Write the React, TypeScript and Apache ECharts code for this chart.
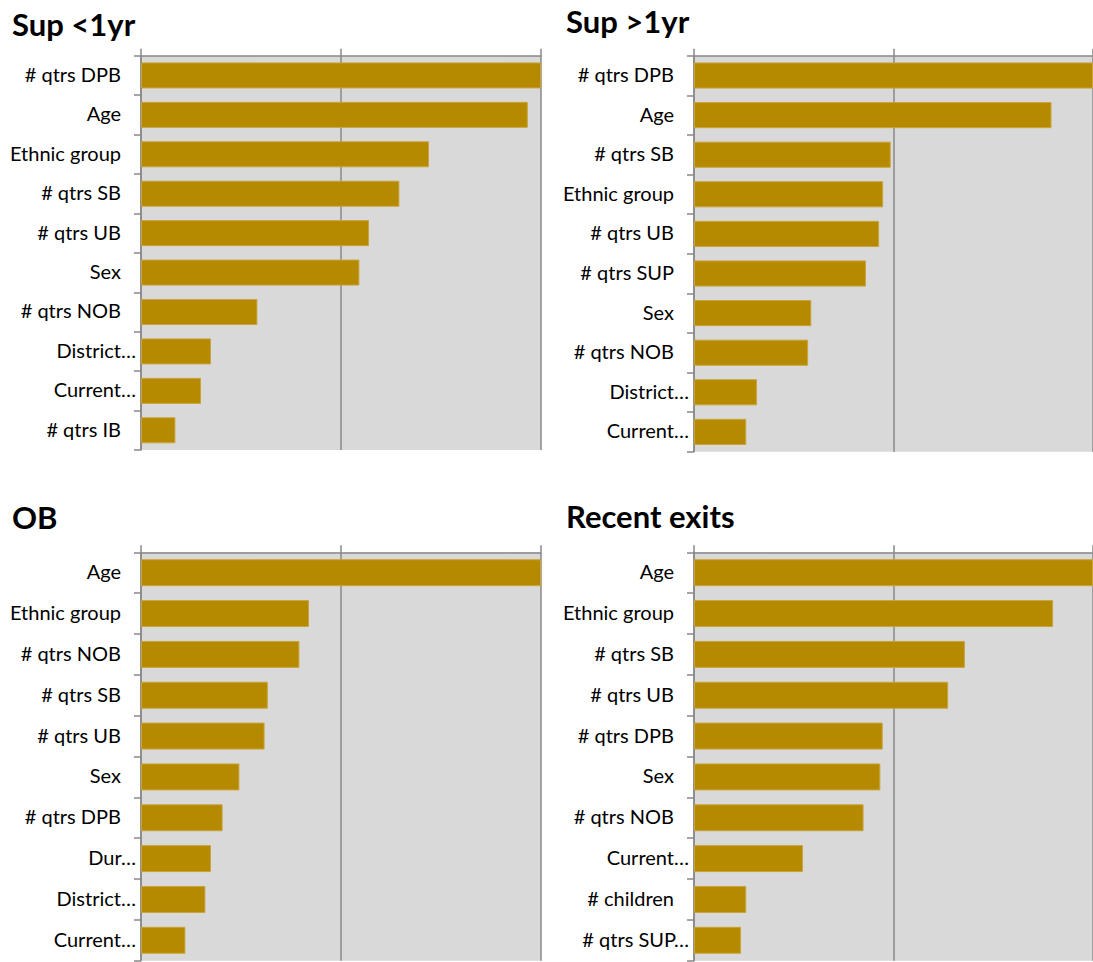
import React, { useEffect, useRef } from "react";
import * as echarts from "echarts";

// Panel titles
const titles = ["Sup <1yr", "Sup >1yr", "OB", "Recent exits"];

// Categories per panel (top to bottom)
const supUnder1Cats = ["# qtrs DPB", "Age", "Ethnic group", "# qtrs SB", "# qtrs UB", "Sex", "# qtrs NOB", "District…", "Current…", "# qtrs IB"];
const supOver1Cats = ["# qtrs DPB", "Age", "# qtrs SB", "Ethnic group", "# qtrs UB", "# qtrs SUP", "Sex", "# qtrs NOB", "District…", "Current…"];
const obCats = ["Age", "Ethnic group", "# qtrs NOB", "# qtrs SB", "# qtrs UB", "Sex", "# qtrs DPB", "Dur…", "District…", "Current…"];
const exitsCats = ["Age", "Ethnic group", "# qtrs SB", "# qtrs UB", "# qtrs DPB", "Sex", "# qtrs NOB", "Current…", "# children", "# qtrs SUP…"];

// Relative importance (0–100)
const supUnder1Vals = [100, 96.7, 72.0, 64.6, 57.0, 54.6, 29.1, 17.5, 15.0, 8.6];
const supOver1Vals = [100, 89.6, 49.3, 47.4, 46.4, 43.1, 29.4, 28.6, 15.8, 13.1];
const obVals = [100, 42.0, 39.6, 31.7, 30.9, 24.6, 20.4, 17.5, 16.1, 11.1];
const exitsVals = [100, 90.0, 67.9, 63.7, 47.3, 46.7, 42.5, 27.3, 13.1, 11.8];

const panelCats = [supUnder1Cats, supOver1Cats, obCats, exitsCats];
const panelVals = [supUnder1Vals, supOver1Vals, obVals, exitsVals];

// Panel geometry in pixels
const gridBoxes = [
  { left: 141, top: 55.7, width: 400, height: 394.3 },
  { left: 694, top: 55.7, width: 400, height: 396 },
  { left: 141, top: 552.3, width: 400, height: 408.4 },
  { left: 694, top: 552.3, width: 400, height: 408.4 },
];
const titlePos = [
  { left: 12, top: 8 },
  { left: 566, top: 5 },
  { left: 12, top: 501 },
  { left: 566, top: 500 },
];

const LINE = "#888888";
const BAR = "#B58A00";
const FONT = "Lato";

export default function App() {
  const ref = useRef<HTMLDivElement>(null);

  useEffect(() => {
    if (!ref.current) return;
    const chart = echarts.init(ref.current, undefined, { renderer: "svg" });

    const labelStyle = { fontSize: 20, fontFamily: FONT, color: "#000" };

    chart.setOption({
      animation: false,
      backgroundColor: "#ffffff",
      title: titles.map((t, i) => ({
        text: t,
        left: titlePos[i].left,
        top: titlePos[i].top,
        padding: 0,
        textStyle: { fontSize: 31, fontWeight: "bold", fontFamily: FONT, color: "#000" },
      })),
      grid: gridBoxes.map((g) => ({
        ...g,
        show: true,
        backgroundColor: "#D9D9D9",
        borderWidth: 0,
        containLabel: false,
      })),
      xAxis: gridBoxes.map((_, i) => ({
        type: "value",
        gridIndex: i,
        min: 0,
        max: 100,
        interval: 50,
        position: "top",
        axisLine: { show: true, lineStyle: { color: LINE, width: 1.5 } },
        axisTick: { show: true, length: 7, lineStyle: { color: LINE, width: 1.5 } },
        axisLabel: { show: false },
        splitLine: { show: true, lineStyle: { color: LINE, width: 1.5 } },
      })),
      yAxis: gridBoxes.map((_, i) => ({
        type: "category",
        gridIndex: i,
        inverse: true,
        data: panelCats[i],
        axisLine: { show: true, onZero: false, lineStyle: { color: LINE, width: 1.5 } },
        axisTick: { show: true, length: 7, alignWithLabel: false, interval: 0, lineStyle: { color: LINE, width: 1.5 } },
        splitLine: { show: false },
        axisLabel: {
          interval: 0,
          margin: 5,
          // full names sit further from the axis than truncated ones
          formatter: (v: string) => (v.endsWith("…") ? `{t|${v}}` : `{n|${v}}`),
          rich: {
            n: { ...labelStyle, padding: [0, 15, 3, 0] },
            t: { ...labelStyle, padding: [0, 0, 3, 0] },
          },
        },
      })),
      series: panelVals.map((vals, i) => ({
        type: "bar",
        xAxisIndex: i,
        yAxisIndex: i,
        data: vals,
        barCategoryGap: "34%",
        silent: true,
        itemStyle: { color: BAR, borderColor: "#C9A43A", borderWidth: 1 },
      })),
    });

    return () => chart.dispose();
  }, []);

  return (
    <div
      ref={ref}
      style={{ position: "absolute", left: 0, top: 0, width: 1093, height: 962 }}
    />
  );
}
